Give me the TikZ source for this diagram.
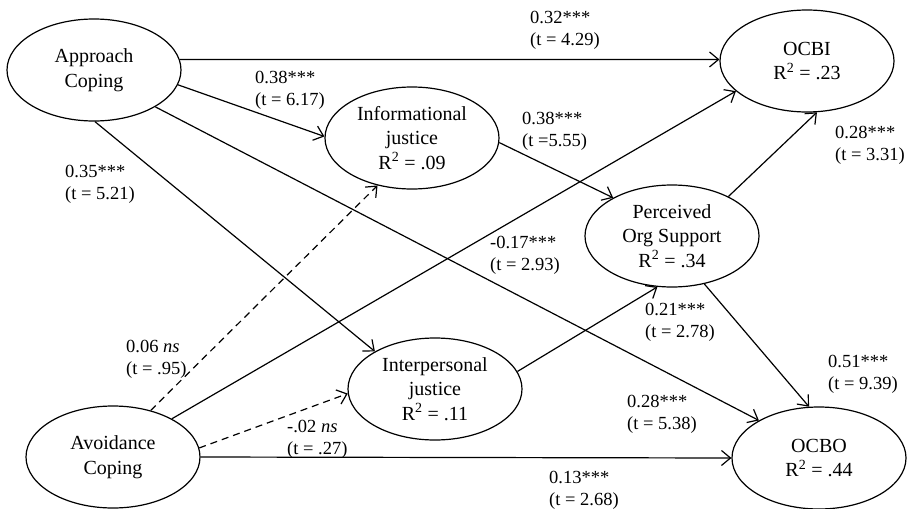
\documentclass[tikz,border=0pt]{standalone}
\usepackage{fontspec}
\setmainfont{Liberation Serif}
\usetikzlibrary{shapes.geometric}
\usetikzlibrary{arrows.meta}

\tikzset{
  construct/.style={draw, ellipse, line width=1.2pt, minimum width=174pt, minimum height=102pt, inner sep=-4pt, align=center, font=\fontsize{20}{24.5}\selectfont},
  arr/.style={line width=1.2pt, -{Straight Barb[length=9pt,width=15pt]}},
  nsarr/.style={arr, dash pattern=on 7pt off 5pt},
  coef/.style={anchor=north west, inner sep=0pt, align=left, font=\fontsize{18.5}{22}\selectfont}
}

\begin{document}
\begin{tikzpicture}[x=1pt,y=-1pt]
\useasboundingbox (0,0) rectangle (911,509);

\node[construct] (v1) at (94,70) {Approach\\Coping};
\node[construct] (v2) at (113,457) {Avoidance\\Coping};
\node[construct] (v3) at (412,138) {Informational\\justice\\R\textsuperscript{2} = .09};
\node[construct] (v4) at (435,389) {Interpersonal\\justice\\R\textsuperscript{2} = .11};
\node[construct] (v5) at (672,236) {Perceived\\Org Support\\R\textsuperscript{2} = .34};
\node[construct] (v6) at (807,61) {OCBI\\R\textsuperscript{2} = .23};
\node[construct] (v7) at (819,458) {OCBO\\R\textsuperscript{2} = .44};
\draw [arr] (v1.7) -- (v6.179);
\draw [arr] (v1.-10) -- (v3.179);
\draw [arr] (v1.-89) -- (v4.148);
\draw [arr] (v1.-31) -- (v7.148);
\draw [arr] (v3.-3) -- (v5.147);
\draw [arr] (v2.33) -- (v6.203);
\draw [nsarr] (v2.51) -- (v3.234);
\draw [nsarr] (v2.6) -- (v4.183);
\draw [arr] (v2.0) -- (v7.180);
\draw [arr] (v4.12) -- (v5.254);
\draw [arr] (v5.35) -- (v6.-79);
\draw [arr] (v5.-56) -- (v7.101);
\node[coef] (v8) at (530,10.5) {0.32***\\(t = 4.29)};
\node[coef] (v9) at (255,70.5) {0.38***\\(t = 6.17)};
\node[coef] (v10) at (65,164.5) {0.35***\\(t = 5.21)};
\node[coef] (v11) at (522,111.5) {0.38***\\(t =5.55)};
\node[coef] (v12) at (835,125.5) {0.28***\\(t = 3.31)};
\node[coef] (v13) at (490,235.5) {-0.17***\\(t = 2.93)};
\node[coef] (v14) at (126,339.5) {0.06 \textit{ns}\\(t = .95)};
\node[coef] (v15) at (287,419.5) {-.02 \textit{ns}\\(t = .27)};
\node[coef] (v16) at (645,302.5) {0.21***\\(t = 2.78)};
\node[coef] (v17) at (828,354.5) {0.51***\\(t = 9.39)};
\node[coef] (v18) at (627,394.5) {0.28***\\(t = 5.38)};
\node[coef] (v19) at (549,470.5) {0.13***\\(t = 2.68)};
\end{tikzpicture}
\end{document}
